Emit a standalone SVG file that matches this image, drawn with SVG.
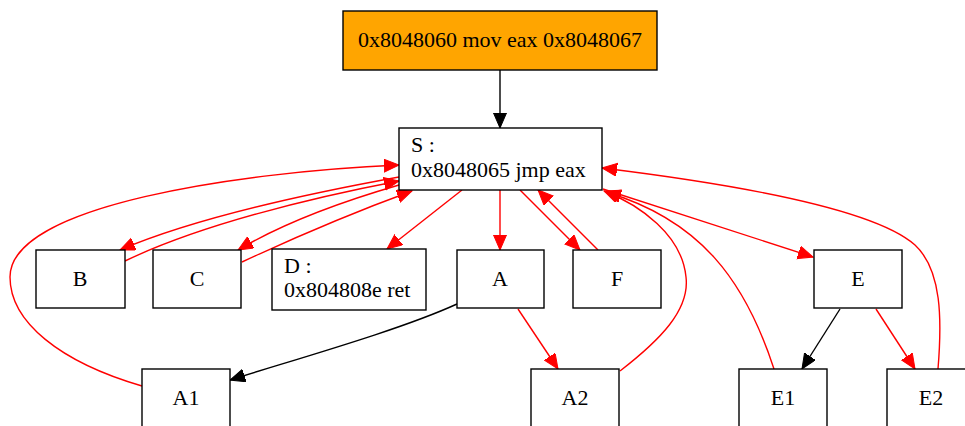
<svg xmlns="http://www.w3.org/2000/svg" width="965" height="426" viewBox="0 0 965 426">
<style>
.n{fill:#fff;stroke:#000;stroke-width:1.4}
.t{font-family:"Liberation Serif","Times New Roman",serif;font-size:22px;fill:#000}
.c{text-anchor:middle}
.r{fill:none;stroke:#f00;stroke-width:1.4;marker-end:url(#ar)}
.k{fill:none;stroke:#000;stroke-width:1.4;marker-end:url(#ak)}
</style>
<defs>
<marker id="ar" markerUnits="userSpaceOnUse" markerWidth="18" markerHeight="14" refX="15" refY="6.5" orient="auto"><path d="M0,0 L15,6.5 L0,13 z" fill="#f00" stroke="#f00"/></marker>
<marker id="ak" markerUnits="userSpaceOnUse" markerWidth="18" markerHeight="14" refX="15" refY="6.5" orient="auto"><path d="M0,0 L15,6.5 L0,13 z" fill="#000" stroke="#000"/></marker>
</defs>
<rect width="965" height="426" fill="#fff"/>
<g id="connectors">
<path class="k" d="M500,70 L500,128"/>
<path class="r" d="M399,177 C300,195 190,220 120,250"/>
<path class="r" d="M125,261 C200,225 310,198 399,181"/>
<path class="r" d="M399,185 C330,205 280,225 238,250"/>
<path class="r" d="M242,262 C300,235 360,210 412,191"/>
<path class="r" d="M462,190 L387,249"/>
<path class="r" d="M142,386 C60,362 10,322 10,277 C10,205 240,172 399,165"/>
<path class="k" d="M457,304 C400,330 300,358 230,380"/>
<path class="r" d="M500,190 L500,250"/>
<path class="r" d="M520,190 L580,250"/>
<path class="r" d="M598,250 L538,190"/>
<path class="r" d="M518,309 L558,369"/>
<path class="r" d="M620,371 C660,340 690,310 686,277 C682,235 640,205 604,191"/>
<path class="r" d="M774,369 C745,280 700,220 606,192"/>
<path class="r" d="M603,189 L813,257"/>
<path class="r" d="M938,369 C942,320 942,270 915,245 C870,205 700,180 602,168"/>
<path class="k" d="M840,309 L802,369"/>
<path class="r" d="M876,309 L915,369"/>
</g>
<g id="top"><rect x="343" y="11" width="314" height="59" fill="#ffa500" stroke="#000" stroke-width="1.4"/><text class="t c" x="500" y="47">0x8048060 mov eax 0x8048067</text></g>
<g id="S"><rect class="n" x="399" y="128" width="203" height="62"/><text class="t" x="411" y="152">S :</text><text class="t" x="411" y="177">0x8048065 jmp eax</text></g>
<g id="B"><rect class="n" x="36" y="250" width="89" height="58"/><text class="t c" x="80" y="286">B</text></g>
<g id="C"><rect class="n" x="153" y="250" width="88" height="58"/><text class="t c" x="197" y="286">C</text></g>
<g id="D"><rect class="n" x="272" y="249" width="154" height="61"/><text class="t" x="284" y="273">D :</text><text class="t" x="284" y="297">0x804808e ret</text></g>
<g id="A"><rect class="n" x="457" y="250" width="87" height="58"/><text class="t c" x="500" y="286">A</text></g>
<g id="F"><rect class="n" x="573" y="250" width="88" height="58"/><text class="t c" x="617" y="286">F</text></g>
<g id="E"><rect class="n" x="814" y="250" width="88" height="58"/><text class="t c" x="858" y="286">E</text></g>
<g id="A1"><rect class="n" x="142" y="369" width="88" height="58"/><text class="t c" x="186" y="405">A1</text></g>
<g id="A2"><rect class="n" x="531" y="369" width="88" height="58"/><text class="t c" x="575" y="405">A2</text></g>
<g id="E1"><rect class="n" x="739" y="369" width="88" height="58"/><text class="t c" x="783" y="405">E1</text></g>
<g id="E2"><rect class="n" x="887" y="369" width="88" height="58"/><text class="t c" x="931" y="405">E2</text></g>
</svg>
